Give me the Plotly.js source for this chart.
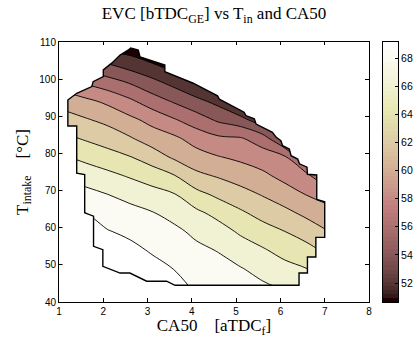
<!DOCTYPE html>
<html><head><meta charset="utf-8">
<script src="https://cdn.plot.ly/plotly-3.0.1.min.js"></script>
<style>html,body{margin:0;padding:0;background:#fff;}#chart{width:415px;height:338px;}</style>
</head><body><div id="chart"></div>
<script>
// ---- data ----
const ca50 = [1.1, 1.6, 2.1, 2.6, 3.1, 3.6, 4.1, 4.6, 5.1, 5.6, 6.1, 6.6, 7.1];
const tIntake = [44, 49, 54, 59, 64, 69, 74, 79, 84, 89, 94, 99, 104, 109];
const evcRow44  = [71.8, 71.8, 71.8, 71.8, 71.3, 70.7, 69.7, 69.3, 68.9, 68.3, 67.8, 67.1, 66.4];
const evcRow49  = [71.7, 71.6, 71.4, 71.2, 70.6, 69.95, 69.1, 68.6, 68.1, 67.4, 66.6, 66.0, 65.1];
const evcRow54  = [71.5, 71.4, 70.8, 70.5, 69.8, 69.2, 68.4, 67.9, 67.0, 66.2, 65.3, 64.6, 63.5];
const evcRow59  = [71.2, 71.0, 70.1, 69.6, 69.0, 68.4, 67.6, 66.8, 65.7, 64.8, 64.0, 63.1, 62.0];
const evcRow64  = [70.6, 70.0, 69.1, 68.6, 68.1, 67.4, 66.4, 65.4, 64.3, 63.3, 62.5, 61.5, 60.7];
const evcRow69  = [69.2, 68.6, 68.0, 67.4, 66.7, 66.1, 64.6, 63.55, 62.7, 61.85, 60.9, 59.9, 59.1];
const evcRow74  = [67.8, 67.1, 66.5, 65.8, 65.1, 64.1, 62.45, 61.8, 61.1, 60.4, 59.4, 58.6, 55.0];
const evcRow79  = [66.2, 65.5, 64.8, 64.1, 63.0, 61.7, 60.8, 60.1, 59.6, 59.0, 58.3, 54.0, 51.0];
const evcRow84  = [64.5, 63.8, 63.1, 62.2, 61.1, 60.4, 59.2, 58.4, 58.2, 57.0, 53.6, 50.5, 49.0];
const evcRow89  = [62.9, 62.2, 61.5, 60.5, 59.4, 58.2, 57.0, 55.7, 54.8, 52.6, 50.0, 49.0, 48.0];
const evcRow94  = [61.2, 60.5, 59.6, 58.4, 57.0, 55.8, 54.6, 53.4, 51.0, 49.0, 48.5, 48.0, 47.0];
const evcRow99  = [58.9, 57.8, 56.9, 55.9, 54.65, 53.4, 52.0, 49.5, 48.5, 47.5, 47.0, 47.0, 46.0];
const evcRow104 = [55.8, 55.0, 54.1, 53.1, 52.15, 51.0, 49.5, 48.5, 47.5, 46.5, 46.0, 46.0, 45.0];
const evcRow109 = [53.3, 52.5, 51.1, 50.8, 50.0, 49.5, 48.5, 47.0, 46.5, 45.5, 45.0, 45.0, 44.0];
// outline of the measured region (CA50, T_intake)
const boundaryCA50 = [1.20,1.40,1.74,1.77,2.00,2.00,2.19,2.38,2.56,2.62,2.79,2.83,3.39,3.39,4.03,4.58,4.62,5.18,5.22,5.41,5.45,5.82,5.90,6.01,6.05,6.20,6.24,6.39,6.43,6.60,6.61,6.82,6.82,7.00,7.00,6.80,6.80,6.61,6.61,6.42,6.42,3.62,3.43,2.98,2.60,2.38,1.99,1.99,1.78,1.78,1.58,1.58,1.40,1.40,1.20];
const boundaryT    = [94.4,96.2,98.0,99.3,100.7,102.5,104.3,106.5,107.8,108.4,107.8,106.0,103.8,102.0,98.9,95.5,94.6,91.1,90.2,89.3,87.9,85.7,84.4,83.4,82.1,81.2,79.4,78.5,77.2,76.3,74.4,74.2,67.6,67.0,57.4,57.4,52.1,52.1,47.8,47.8,44.5,44.5,45.6,45.6,47.8,47.8,49.6,54.1,55.0,63.1,64.0,74.3,74.7,87.4,87.4];
const levelStart = 52, levelEnd = 70, levelStep = 2;
const colorMin = 50.65, colorMax = 69.14;
const xTicks = [1, 2, 3, 4, 5, 6, 7, 8];
const yTicks = [40, 50, 60, 70, 80, 90, 100, 110];
const cbTicks = [52, 54, 56, 58, 60, 62, 64, 66, 68];

const evc = [evcRow44, evcRow49, evcRow54, evcRow59, evcRow64, evcRow69, evcRow74,
             evcRow79, evcRow84, evcRow89, evcRow94, evcRow99, evcRow104, evcRow109];

// ---- MATLAB "pink" colormap (64 entries) ----
const NC = 64;
function pinkMap(m) {
  const n = Math.floor(3 / 8 * m), out = [];
  for (let i = 1; i <= m; i++) {
    const gray = (i - 1) / (m - 1);
    const rh = i <= n ? i / n : 1;
    const gh = i <= n ? 0 : (i <= 2 * n ? (i - n) / n : 1);
    const bh = i <= 2 * n ? 0 : (i - 2 * n) / (m - 2 * n);
    const c = [rh, gh, bh].map(h => Math.round(255 * Math.sqrt((2 * gray + h) / 3)));
    out.push('rgb(' + c.join(',') + ')');
  }
  return out;
}
const cmap = pinkMap(NC);
function colorOf(v) {
  let idx = Math.floor((v - colorMin) / (colorMax - colorMin) * NC);
  idx = Math.max(0, Math.min(NC - 1, idx));
  return cmap[idx];
}
const cbScale = [];
cmap.forEach((c, i) => { cbScale.push([i / NC, c]); cbScale.push([(i + 1) / NC, c]); });
const nBands = (levelEnd - levelStart) / levelStep + 1;
const bandScale = [];
for (let k = 0; k <= nBands; k++) {
  const lower = levelStart - levelStep + k * levelStep;
  bandScale.push([k / nBands, colorOf(lower)]);
}
// colour-bar strip: one cell per colormap entry
const cbStep = (colorMax - colorMin) / NC;
const cbZ = cmap.map((c, i) => [colorMin + (i + 0.5) * cbStep]);

const xMin = Math.min(...ca50) - 0.02, xMax = Math.max(...ca50) + 0.02;
const yMin = Math.min(...tIntake) - 0.2, yMax = Math.max(...tIntake) + 0.2;
const ring = 'M' + boundaryCA50.map((x, i) => x + ',' + boundaryT[i]).join('L') + 'Z';
const maskPath = 'M' + xMin + ',' + yMin + 'L' + xMax + ',' + yMin + 'L' + xMax + ',' + yMax + 'L' + xMin + ',' + yMax + 'Z' + ring;

const traces = [
  {
    type: 'contour', x: ca50, y: tIntake, z: evc,
    autocontour: false,
    contours: {start: levelStart, end: levelEnd, size: levelStep, coloring: 'fill', showlines: true},
    line: {color: '#000', width: 0.9, smoothing: 1},
    colorscale: bandScale, showscale: false, hoverinfo: 'skip'
  },
  {
    type: 'heatmap', xaxis: 'x2', yaxis: 'y2', z: cbZ, x0: 0, dx: 1, y0: colorMin + cbStep / 2, dy: cbStep,
    zmin: colorMin, zmax: colorMax, colorscale: cbScale, showscale: false, hoverinfo: 'skip'
  }
];

// pixel layout: plot 59..369 x 42..302, colour bar 383..398
const W = 415, L = 59, R = 0;
const pw = W - L - R;
const serif = 'Liberation Serif, Times New Roman, serif';
const axisFont = {family: 'Liberation Sans, Arial, sans-serif', size: 10, color: '#000'};
const layout = {
  width: W, height: 338, autosize: false,
  margin: {l: L, r: R, t: 42, b: 36, pad: 0},
  paper_bgcolor: '#fff', plot_bgcolor: '#fff',
  showlegend: false,
  title: {
    text: 'EVC [bTDC<sub>GE</sub>] vs T<sub>in</sub> and CA50',
    font: {family: serif, size: 17, color: '#000'},
    x: 214 / W, xref: 'container', xanchor: 'center', y: 0.978, yref: 'container', yanchor: 'top'
  },
  xaxis: {
    domain: [0, 310 / pw],
    range: [1, 8], tickmode: 'array', tickvals: xTicks, ticktext: xTicks.map(String),
    ticks: 'inside', ticklen: 4, tickcolor: '#000', showline: true, linecolor: '#000', linewidth: 1,
    mirror: 'ticks', showgrid: false, zeroline: false, tickfont: axisFont,
    title: {text: 'CA50&nbsp;&nbsp;&nbsp;&nbsp;[aTDC<sub>f</sub>]', standoff: 4,
      font: {family: serif, size: 17, color: '#000'}}
  },
  yaxis: {
    domain: [0, 1],
    range: [40, 110], tickmode: 'array', tickvals: yTicks, ticktext: yTicks.map(String),
    ticks: 'inside', ticklen: 4, tickcolor: '#000', showline: true, linecolor: '#000', linewidth: 1,
    mirror: 'ticks', showgrid: false, zeroline: false, tickfont: axisFont,
    title: {text: 'T<sub>intake</sub>&nbsp;&nbsp;&nbsp;&nbsp;[°C]', standoff: 6,
      font: {family: serif, size: 17, color: '#000'}}
  },
  xaxis2: {
    domain: [(383 - L) / pw, (398 - L) / pw], anchor: 'y2', range: [-0.5, 0.5],
    showticklabels: false, ticks: '', showline: true, linecolor: '#000', linewidth: 1, mirror: true,
    showgrid: false, zeroline: false, fixedrange: true
  },
  yaxis2: {
    domain: [0, 1], anchor: 'x2', side: 'right', range: [colorMin, colorMax],
    tickmode: 'array', tickvals: cbTicks, ticktext: cbTicks.map(String),
    ticks: 'inside', ticklen: 3, tickcolor: '#000', showline: true, linecolor: '#000', linewidth: 1,
    mirror: true, showgrid: false, zeroline: false,
    tickfont: {family: 'Liberation Sans, Arial, sans-serif', size: 10.5, color: '#000'}
  },
  shapes: [
    {type: 'path', xref: 'x', yref: 'y', path: maskPath, fillcolor: '#fff', fillrule: 'evenodd',
     line: {width: 0}, layer: 'above'},
    {type: 'path', xref: 'x', yref: 'y', path: ring, fillcolor: 'rgba(0,0,0,0)',
     line: {color: '#000', width: 1.4}, layer: 'above'}
  ]
};
Plotly.newPlot('chart', traces, layout, {staticPlot: true, displayModeBar: false});
</script></body></html>
